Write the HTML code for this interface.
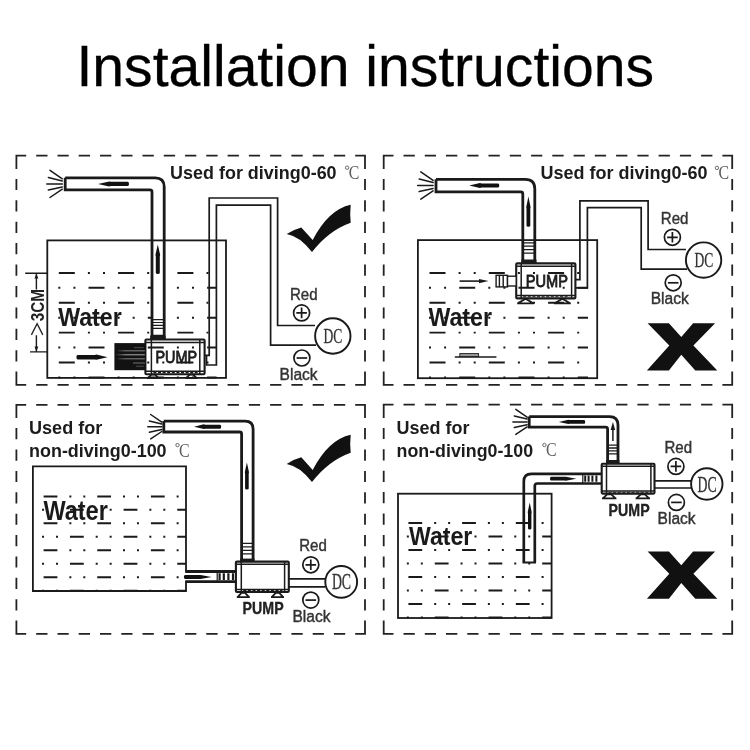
<!DOCTYPE html>
<html><head><meta charset="utf-8"><title>Installation instructions</title><style>html,body{margin:0;padding:0;background:#fff;width:750px;height:750px;overflow:hidden;font-family:"Liberation Sans",sans-serif}svg{display:block;filter:blur(0.3px)}</style></head><body>
<svg width="750" height="750" viewBox="0 0 750 750"><text x="76.5" y="86.3" font-family="Liberation Sans" font-size="57.5" font-weight="normal" fill="#000" text-anchor="start" textLength="577.5" lengthAdjust="spacingAndGlyphs" stroke="#000" stroke-width="0.3">Installation instructions</text>
<path d="M15.5,155.6H26.2M36.2,155.6H47.5M57.5,155.6H68.7M78.7,155.6H90.0M100.0,155.6H111.3M121.3,155.6H132.5M142.5,155.6H153.8M163.8,155.6H175.1M185.1,155.6H196.3M206.3,155.6H217.6M227.6,155.6H238.9M248.9,155.6H260.1M270.1,155.6H281.4M291.4,155.6H302.7M312.7,155.6H323.9M333.9,155.6H345.2M355.2,155.6H365.9M15.5,384.9H26.2M36.2,384.9H47.5M57.5,384.9H68.7M78.7,384.9H90.0M100.0,384.9H111.3M121.3,384.9H132.5M142.5,384.9H153.8M163.8,384.9H175.1M185.1,384.9H196.3M206.3,384.9H217.6M227.6,384.9H238.9M248.9,384.9H260.1M270.1,384.9H281.4M291.4,384.9H302.7M312.7,384.9H323.9M333.9,384.9H345.2M355.2,384.9H365.9M16.4,154.7V168.9M16.4,178.9V190.1M16.4,200.3V211.5M16.4,221.7V232.9M16.4,243.1V254.3M16.4,264.5V275.8M16.4,286.0V297.2M16.4,307.4V318.6M16.4,328.8V340.0M16.4,350.2V361.4M16.4,371.6V385.8M365.0,154.7V168.9M365.0,178.9V190.1M365.0,200.3V211.5M365.0,221.7V232.9M365.0,243.1V254.3M365.0,264.5V275.8M365.0,286.0V297.2M365.0,307.4V318.6M365.0,328.8V340.0M365.0,350.2V361.4M365.0,371.6V385.8" fill="none" stroke="#222" stroke-width="1.8"/>
<path d="M382.8,155.6H393.5M403.5,155.6H414.8M424.8,155.6H436.0M446.0,155.6H457.3M467.3,155.6H478.5M488.5,155.6H499.8M509.8,155.6H521.1M531.1,155.6H542.3M552.3,155.6H563.6M573.6,155.6H584.8M594.8,155.6H606.1M616.1,155.6H627.4M637.4,155.6H648.6M658.6,155.6H669.9M679.9,155.6H691.1M701.1,155.6H712.4M722.4,155.6H733.1M382.8,384.9H393.5M403.5,384.9H414.8M424.8,384.9H436.0M446.0,384.9H457.3M467.3,384.9H478.5M488.5,384.9H499.8M509.8,384.9H521.1M531.1,384.9H542.3M552.3,384.9H563.6M573.6,384.9H584.8M594.8,384.9H606.1M616.1,384.9H627.4M637.4,384.9H648.6M658.6,384.9H669.9M679.9,384.9H691.1M701.1,384.9H712.4M722.4,384.9H733.1M383.7,154.7V168.9M383.7,178.9V190.1M383.7,200.3V211.5M383.7,221.7V232.9M383.7,243.1V254.3M383.7,264.5V275.8M383.7,286.0V297.2M383.7,307.4V318.6M383.7,328.8V340.0M383.7,350.2V361.4M383.7,371.6V385.8M732.2,154.7V168.9M732.2,178.9V190.1M732.2,200.3V211.5M732.2,221.7V232.9M732.2,243.1V254.3M732.2,264.5V275.8M732.2,286.0V297.2M732.2,307.4V318.6M732.2,328.8V340.0M732.2,350.2V361.4M732.2,371.6V385.8" fill="none" stroke="#222" stroke-width="1.8"/>
<path d="M15.5,404.8H26.2M36.2,404.8H47.5M57.5,404.8H68.7M78.7,404.8H90.0M100.0,404.8H111.3M121.3,404.8H132.5M142.5,404.8H153.8M163.8,404.8H175.1M185.1,404.8H196.3M206.3,404.8H217.6M227.6,404.8H238.9M248.9,404.8H260.1M270.1,404.8H281.4M291.4,404.8H302.7M312.7,404.8H323.9M333.9,404.8H345.2M355.2,404.8H365.9M15.5,633.9H26.2M36.2,633.9H47.5M57.5,633.9H68.7M78.7,633.9H90.0M100.0,633.9H111.3M121.3,633.9H132.5M142.5,633.9H153.8M163.8,633.9H175.1M185.1,633.9H196.3M206.3,633.9H217.6M227.6,633.9H238.9M248.9,633.9H260.1M270.1,633.9H281.4M291.4,633.9H302.7M312.7,633.9H323.9M333.9,633.9H345.2M355.2,633.9H365.9M16.4,403.9V418.1M16.4,428.1V439.3M16.4,449.5V460.7M16.4,470.9V482.1M16.4,492.3V503.5M16.4,513.7V524.8M16.4,535.0V546.2M16.4,556.4V567.6M16.4,577.8V589.0M16.4,599.2V610.4M16.4,620.6V634.8M365.0,403.9V418.1M365.0,428.1V439.3M365.0,449.5V460.7M365.0,470.9V482.1M365.0,492.3V503.5M365.0,513.7V524.8M365.0,535.0V546.2M365.0,556.4V567.6M365.0,577.8V589.0M365.0,599.2V610.4M365.0,620.6V634.8" fill="none" stroke="#222" stroke-width="1.8"/>
<path d="M382.8,404.6H393.5M403.5,404.6H414.8M424.8,404.6H436.0M446.0,404.6H457.3M467.3,404.6H478.5M488.5,404.6H499.8M509.8,404.6H521.1M531.1,404.6H542.3M552.3,404.6H563.6M573.6,404.6H584.8M594.8,404.6H606.1M616.1,404.6H627.4M637.4,404.6H648.6M658.6,404.6H669.9M679.9,404.6H691.1M701.1,404.6H712.4M722.4,404.6H733.1M382.8,633.9H393.5M403.5,633.9H414.8M424.8,633.9H436.0M446.0,633.9H457.3M467.3,633.9H478.5M488.5,633.9H499.8M509.8,633.9H521.1M531.1,633.9H542.3M552.3,633.9H563.6M573.6,633.9H584.8M594.8,633.9H606.1M616.1,633.9H627.4M637.4,633.9H648.6M658.6,633.9H669.9M679.9,633.9H691.1M701.1,633.9H712.4M722.4,633.9H733.1M383.7,403.7V417.9M383.7,427.9V439.1M383.7,449.3V460.5M383.7,470.7V481.9M383.7,492.1V503.3M383.7,513.5V524.8M383.7,535.0V546.2M383.7,556.4V567.6M383.7,577.8V589.0M383.7,599.2V610.4M383.7,620.6V634.8M732.2,403.7V417.9M732.2,427.9V439.1M732.2,449.3V460.5M732.2,470.7V481.9M732.2,492.1V503.3M732.2,513.5V524.8M732.2,535.0V546.2M732.2,556.4V567.6M732.2,577.8V589.0M732.2,599.2V610.4M732.2,620.6V634.8" fill="none" stroke="#222" stroke-width="1.8"/>
<defs><clipPath id="c1"><rect x="47" y="240" width="169.6" height="139"/></clipPath><clipPath id="c2"><rect x="417" y="240" width="171" height="139"/></clipPath><clipPath id="c3"><rect x="32.9" y="467" width="153.1" height="125"/></clipPath><clipPath id="c4"><rect x="398" y="494" width="153.6" height="125"/></clipPath></defs>
<g stroke="#1a1a1a" fill="none" clip-path="url(#c1)"><path d="M-0.50,272.90H227.00" stroke-dasharray="16.00 13.10 2.0 13.10 2.0 13.10" stroke-width="1.95"/><path d="M29.20,287.83H227.00" stroke-dasharray="16.00 13.10 2.0 13.10 2.0 13.10" stroke-width="1.95"/><path d="M-0.50,302.76H227.00" stroke-dasharray="16.00 13.10 2.0 13.10 2.0 13.10" stroke-width="1.95"/><path d="M29.20,317.69H227.00" stroke-dasharray="16.00 13.10 2.0 13.10 2.0 13.10" stroke-width="1.95"/><path d="M-0.50,332.62H227.00" stroke-dasharray="16.00 13.10 2.0 13.10 2.0 13.10" stroke-width="1.95"/><path d="M29.20,347.55H227.00" stroke-dasharray="16.00 13.10 2.0 13.10 2.0 13.10" stroke-width="1.95"/><path d="M-0.50,362.48H227.00" stroke-dasharray="16.00 13.10 2.0 13.10 2.0 13.10" stroke-width="1.95"/><path d="M29.20,377.41H227.00" stroke-dasharray="16.00 13.10 2.0 13.10 2.0 13.10" stroke-width="1.95"/></g>
<path d="M65.2,177.8H155.2Q164.2,177.8 164.2,186.8V339.6H152.0V191.9Q152.0,189.9 150.0,189.9H65.2Z" fill="#fff" stroke="none"/>
<rect x="47.3" y="240.4" width="178.7" height="137.5" fill="none" stroke="#1a1a1a" stroke-width="1.8"/>
<g fill="none" stroke="#1a1a1a" stroke-width="2.8" stroke-linejoin="miter"><path d="M65.2,177.8H155.2Q164.2,177.8 164.2,186.8V339.6"/><path d="M65.2,177.8V189.9H150.0Q152.0,189.9 152.0,191.9V339.6"/></g>
<path d="M152,319.6H164.2M152,322.5H164.2M152,325.4H164.2M152,328.3H164.2" stroke="#1a1a1a" stroke-width="1.2"/>
<path d="M150.2,339.6V336.3Q150.2,334.8 151.7,334.8H164Q165.6,334.8 165.6,336.5V339.6Z" fill="#1a1a1a"/>
<path d="M50.0,170.3L62.3,178.8M48.4,177.5L62.3,180.9M46.8,183.9L62.3,183.9M48.4,190.0L62.3,186.9M50.0,197.5L62.3,189.2" stroke="#1a1a1a" stroke-width="1.5" fill="none" stroke-linecap="round"/>
<path fill="#111" d="M98.0,183.9L109.2,181.4L110.7,181.8H127.7Q129.0,181.8 129.0,183.9Q129.0,186.0 127.7,186.0H110.7L109.2,186.4Z"/>
<path fill="#111" d="M157.8,244.4L160.2,255.1L159.8,256.6V272.8Q159.8,274.0 157.8,274.0Q155.8,274.0 155.8,272.8V256.6L155.4,255.1Z"/>
<path fill="#111" d="M107.6,357.2L96.4,354.6L94.9,354.9H77.8Q76.4,354.9 76.4,357.2Q76.4,359.5 77.8,359.5H94.9L96.4,359.8Z"/>
<text x="58.2" y="326.1" font-family="Liberation Sans" font-size="25.3" font-weight="bold" fill="#1a1a1a" text-anchor="start" textLength="63.6" lengthAdjust="spacingAndGlyphs">Water</text>
<path d="M25.2,273.2H47M30,351.9H47M36.4,273.2V289.5M36.4,335.3V351.9" stroke="#1a1a1a" stroke-width="1.4" fill="none"/>
<path d="M36.4,273.4l-1.9,5.2h3.8zM36.4,351.7l-1.9,-5.2h3.8z" fill="#1a1a1a"/>
<g transform="translate(44.3,321.2) rotate(-90)"><text x="0.0" y="0.0" font-family="Liberation Sans" font-size="19" font-weight="bold" fill="#222" text-anchor="start" textLength="32.2" lengthAdjust="spacingAndGlyphs">3CM</text></g>
<path d="M31.4,334.9L37.1,323.6L42.8,334.9" fill="none" stroke="#222" stroke-width="1.3"/>
<g fill="none" stroke="#1a1a1a"><rect x="145.4" y="339.5" width="59.2" height="34.7" rx="1" stroke-width="2.1"/><path d="M151.4,339.5V374.2M199.8,339.5V374.2M145.4,342.5H204.6M145.4,371.2H204.6" stroke-width="1.5"/><path d="M153.4,372.6H197.6" stroke-width="1.1" stroke-dasharray="3 1.6"/></g>
<path d="M147.0,378.2H159.5M147.8,378.2L151.5,374.6H155.0L158.7,378.2" fill="none" stroke="#1a1a1a" stroke-width="1.8"/><path d="M185.2,378.2H197.6M186.0,378.2L189.7,374.6H193.1L196.8,378.2" fill="none" stroke="#1a1a1a" stroke-width="1.8"/>
<text x="155.4" y="362.9" font-family="Liberation Sans" font-size="16.8" font-weight="normal" fill="#1c1c1c" text-anchor="start" textLength="41.6" lengthAdjust="spacingAndGlyphs" stroke="#1c1c1c" stroke-width="0.8">PUMP</text>
<defs><linearGradient id="sg" gradientUnits="userSpaceOnUse" x1="115" y1="0" x2="145" y2="0"><stop offset="0" stop-color="#9a9a9a" stop-opacity="0"/><stop offset="0.35" stop-color="#9a9a9a" stop-opacity="0.75"/><stop offset="1" stop-color="#8a8a8a" stop-opacity="0.9"/></linearGradient></defs>
<rect x="114.4" y="343.1" width="31" height="27.1" fill="#121212"/>
<g stroke="url(#sg)" fill="none" stroke-width="1.1"><path d="M134,347.6H143.6" stroke-opacity="0.5"/><path d="M118,350.8H144.8"/><path d="M115.5,354.7H144.8" stroke-width="1.5"/><path d="M118,358.8H144.8"/><path d="M133,363H144.8" stroke-opacity="0.8"/><path d="M136,366.3H143.6" stroke-opacity="0.5"/></g>
<g fill="none" stroke="#1a1a1a" stroke-width="1.7"><path d="M204.4,355.4H209.2V198H277.6V325.5H315"/><path d="M206.5,355.4V365H216.4V205.2H270.6V345.2H316"/></g>
<circle cx="332.8" cy="336" r="17.7" fill="#fff" stroke="#1a1a1a" stroke-width="1.9"/><text x="323.6" y="343.3" font-family="Liberation Serif" font-size="21.8" font-weight="normal" fill="#333" text-anchor="start" textLength="18.8" lengthAdjust="spacingAndGlyphs" stroke="#333" stroke-width="0.3">DC</text>
<text x="290.0" y="299.6" font-family="Liberation Sans" font-size="16" font-weight="normal" fill="#333" text-anchor="start" textLength="27.6" lengthAdjust="spacingAndGlyphs" stroke="#333" stroke-width="0.4">Red</text>
<g stroke="#1a1a1a" stroke-width="1.7" fill="none"><circle cx="301.6" cy="312.9" r="8.0"/><path d="M296.3,312.9H306.90000000000003M301.6,307.59999999999997V318.2"/></g>
<g stroke="#1a1a1a" stroke-width="1.7" fill="none"><circle cx="301.9" cy="358" r="8.0"/><path d="M296.59999999999997,358H307.2"/></g>
<text x="279.6" y="380.0" font-family="Liberation Sans" font-size="16" font-weight="normal" fill="#333" text-anchor="start" textLength="38.0" lengthAdjust="spacingAndGlyphs" stroke="#333" stroke-width="0.4">Black</text>
<path fill="#111" d="M286.7,234.1Q293.5,229.4 301.3,227.4L312.7,240.1Q328.3,209.7 350.7,204.8Q349.7,213.8 350.7,222.8Q328.6,230.7 312.0,252.1Q299.3,236.1 286.7,234.1Z"/>
<text x="170.1" y="179.2" font-family="Liberation Sans" font-size="17.7" font-weight="bold" fill="#1c1c1c" text-anchor="start" textLength="166.5" lengthAdjust="spacingAndGlyphs">Used for diving0-60</text>
<circle cx="347.1" cy="167.7" r="1.7" fill="none" stroke="#5a5a5a" stroke-width="0.9"/><text x="348.7" y="179.1" font-family="Liberation Serif" font-size="18.3" font-weight="normal" fill="#5a5a5a" text-anchor="start" textLength="10.6" lengthAdjust="spacingAndGlyphs">C</text>
<g stroke="#1a1a1a" fill="none" clip-path="url(#c2)"><path d="M370.20,272.90H597.00" stroke-dasharray="16.00 13.10 2.0 13.10 2.0 13.10" stroke-width="1.95"/><path d="M399.90,287.83H597.00" stroke-dasharray="16.00 13.10 2.0 13.10 2.0 13.10" stroke-width="1.95"/><path d="M370.20,302.76H597.00" stroke-dasharray="16.00 13.10 2.0 13.10 2.0 13.10" stroke-width="1.95"/><path d="M399.90,317.69H597.00" stroke-dasharray="16.00 13.10 2.0 13.10 2.0 13.10" stroke-width="1.95"/><path d="M370.20,332.62H597.00" stroke-dasharray="16.00 13.10 2.0 13.10 2.0 13.10" stroke-width="1.95"/><path d="M399.90,347.55H597.00" stroke-dasharray="16.00 13.10 2.0 13.10 2.0 13.10" stroke-width="1.95"/><path d="M370.20,362.48H597.00" stroke-dasharray="16.00 13.10 2.0 13.10 2.0 13.10" stroke-width="1.95"/><path d="M399.90,377.41H597.00" stroke-dasharray="16.00 13.10 2.0 13.10 2.0 13.10" stroke-width="1.95"/></g>
<path d="M436,179.3H525.3Q534.8,179.3 534.8,188.8V263H522.8V193.9Q522.8,191.9 520.8,191.9H436Z" fill="#fff" stroke="none"/>
<rect x="417.9" y="240.1" width="179.3" height="138.1" fill="none" stroke="#1a1a1a" stroke-width="1.8"/>
<g fill="none" stroke="#1a1a1a" stroke-width="2.8" stroke-linejoin="miter"><path d="M436,179.3H525.3Q534.8,179.3 534.8,188.8V263"/><path d="M436,179.3V191.9H520.8Q522.8,191.9 522.8,193.9V263"/></g>
<path d="M522.8,242.8H534.8M522.8,246.2H534.8M522.8,249.6H534.8M522.8,253.2H534.8" stroke="#1a1a1a" stroke-width="1.2"/>
<rect x="521.3" y="259.5" width="15.2" height="4" fill="#1a1a1a"/>
<path d="M420.8,171.9L433.1,180.4M419.2,179.1L433.1,182.5M417.6,185.5L433.1,185.5M419.2,191.6L433.1,188.5M420.8,199.1L433.1,190.8" stroke="#1a1a1a" stroke-width="1.5" fill="none" stroke-linecap="round"/>
<path fill="#111" d="M469.2,185.5L480.0,183.0L481.5,183.4H498.0Q499.3,183.4 499.3,185.5Q499.3,187.6 498.0,187.6H481.5L480.0,188.0Z"/>
<path fill="#111" d="M528.4,196.4L530.6,207.3L530.3,208.8V225.7Q530.3,226.8 528.4,226.8Q526.5,226.8 526.5,225.7V208.8L526.2,207.3Z"/>
<text x="428.4" y="326.2" font-family="Liberation Sans" font-size="25.3" font-weight="bold" fill="#1a1a1a" text-anchor="start" textLength="63.6" lengthAdjust="spacingAndGlyphs">Water</text>
<g fill="none" stroke="#1a1a1a"><rect x="516.2" y="263.4" width="59.2" height="35.0" rx="1" stroke-width="2.1"/><path d="M521.2,263.4V298.4M571.6,263.4V298.4M516.2,266.3H575.4M516.2,295.5H575.4" stroke-width="1.5"/><path d="M523.2,296.8H569.4" stroke-width="1.1" stroke-dasharray="3 1.6"/></g>
<path d="M517.2,303.3H534.0M518.0,303.3L524.8,299.2H526.4L533.2,303.3" fill="none" stroke="#1a1a1a" stroke-width="1.8"/><path d="M554.0,303.3H570.8M554.8,303.3L561.6,299.2H563.2L570.0,303.3" fill="none" stroke="#1a1a1a" stroke-width="1.8"/>
<text x="525.8" y="286.8" font-family="Liberation Sans" font-size="16.8" font-weight="normal" fill="#1c1c1c" text-anchor="start" textLength="42.2" lengthAdjust="spacingAndGlyphs" stroke="#1c1c1c" stroke-width="0.8">PUMP</text>
<g fill="#fff" stroke="#1a1a1a" stroke-width="1.4"><rect x="496.1" y="275.3" width="11.4" height="11.6"/><rect x="507.5" y="276.2" width="8.7" height="9.8"/><path d="M499.4,275.3V286.9M503.2,275.3V286.9"/></g>
<path d="M459.6,281.1H482" stroke="#1a1a1a" stroke-width="1.6"/><path d="M488.6,281.1l-9.6,-2.2v4.4z" fill="#1a1a1a"/>
<path d="M454.8,356.9H496.4" stroke="#1a1a1a" stroke-width="1.5"/><rect x="459.8" y="353.6" width="18.8" height="3" fill="#999" stroke="#1a1a1a" stroke-width="0.9"/>
<g fill="none" stroke="#1a1a1a" stroke-width="1.7"><path d="M575.4,279.6H579.9V200.9H648.1V249.5H686"/><path d="M575.4,287.8H587.4V207.7H641.2V269.2H687"/></g>
<circle cx="703.6" cy="260.1" r="17.7" fill="#fff" stroke="#1a1a1a" stroke-width="1.9"/><text x="694.4" y="267.4" font-family="Liberation Serif" font-size="21.8" font-weight="normal" fill="#333" text-anchor="start" textLength="18.8" lengthAdjust="spacingAndGlyphs" stroke="#333" stroke-width="0.3">DC</text>
<text x="660.8" y="223.6" font-family="Liberation Sans" font-size="16" font-weight="normal" fill="#333" text-anchor="start" textLength="27.6" lengthAdjust="spacingAndGlyphs" stroke="#333" stroke-width="0.4">Red</text>
<g stroke="#1a1a1a" stroke-width="1.7" fill="none"><circle cx="672.4" cy="237.3" r="8.0"/><path d="M667.1,237.3H677.6999999999999M672.4,232.0V242.60000000000002"/></g>
<g stroke="#1a1a1a" stroke-width="1.7" fill="none"><circle cx="673.2" cy="282.8" r="8.0"/><path d="M667.9000000000001,282.8H678.5"/></g>
<text x="650.7" y="303.9" font-family="Liberation Sans" font-size="16" font-weight="normal" fill="#333" text-anchor="start" textLength="38.0" lengthAdjust="spacingAndGlyphs" stroke="#333" stroke-width="0.4">Black</text>
<path fill="#111" d="M647.6,323.2L668.9,323.2L681.3,337.1L693.1,323.2L715.1,323.2L693.4,345.6L717.3,370.6L695.3,370.6L681.3,354.7L668.9,370.6L646.9,370.6L669.3,345.6Z"/>
<text x="540.5" y="179.3" font-family="Liberation Sans" font-size="17.7" font-weight="bold" fill="#1c1c1c" text-anchor="start" textLength="167.0" lengthAdjust="spacingAndGlyphs">Used for diving0-60</text>
<circle cx="716.9" cy="167.9" r="1.7" fill="none" stroke="#5a5a5a" stroke-width="0.9"/><text x="718.5" y="179.3" font-family="Liberation Serif" font-size="18.3" font-weight="normal" fill="#5a5a5a" text-anchor="start" textLength="10.6" lengthAdjust="spacingAndGlyphs">C</text>
<g stroke="#1a1a1a" fill="none" clip-path="url(#c3)"><path d="M-10.05,496.40H186.00" stroke-dasharray="13.80 11.95 2.0 11.95 2.0 11.95" stroke-width="2.0"/><path d="M16.30,509.87H186.00" stroke-dasharray="13.80 11.95 2.0 11.95 2.0 11.95" stroke-width="2.0"/><path d="M-10.05,523.34H186.00" stroke-dasharray="13.80 11.95 2.0 11.95 2.0 11.95" stroke-width="2.0"/><path d="M16.30,536.81H186.00" stroke-dasharray="13.80 11.95 2.0 11.95 2.0 11.95" stroke-width="2.0"/><path d="M-10.05,550.28H186.00" stroke-dasharray="13.80 11.95 2.0 11.95 2.0 11.95" stroke-width="2.0"/><path d="M16.30,563.75H186.00" stroke-dasharray="13.80 11.95 2.0 11.95 2.0 11.95" stroke-width="2.0"/><path d="M-10.05,577.22H186.00" stroke-dasharray="13.80 11.95 2.0 11.95 2.0 11.95" stroke-width="2.0"/><path d="M16.30,590.69H186.00" stroke-dasharray="13.80 11.95 2.0 11.95 2.0 11.95" stroke-width="2.0"/></g>
<path d="M186,571.5V466.4H32.9V591H186V581.6" fill="none" stroke="#1a1a1a" stroke-width="1.8"/>
<text x="43.4" y="519.6" font-family="Liberation Sans" font-size="27.6" font-weight="bold" fill="#1a1a1a" text-anchor="start" textLength="64.4" lengthAdjust="spacingAndGlyphs">Water</text>
<text x="29.0" y="433.6" font-family="Liberation Sans" font-size="17.7" font-weight="bold" fill="#1c1c1c" text-anchor="start" textLength="73.3" lengthAdjust="spacingAndGlyphs">Used for</text>
<text x="29.0" y="456.5" font-family="Liberation Sans" font-size="17.7" font-weight="bold" fill="#1c1c1c" text-anchor="start" textLength="137.6" lengthAdjust="spacingAndGlyphs">non-diving0-100</text>
<circle cx="177.5" cy="445.1" r="1.7" fill="none" stroke="#5a5a5a" stroke-width="0.9"/><text x="179.1" y="456.5" font-family="Liberation Serif" font-size="18.3" font-weight="normal" fill="#5a5a5a" text-anchor="start" textLength="10.6" lengthAdjust="spacingAndGlyphs">C</text>
<path d="M163.8,421.1H245.1Q253.1,421.1 253.1,429.1V562H241.6V434Q241.6,432 239.6,432H163.8Z" fill="#fff" stroke="none"/>
<g fill="none" stroke="#1a1a1a" stroke-width="2.8" stroke-linejoin="miter"><path d="M163.8,421.1H245.1Q253.1,421.1 253.1,429.1V562"/><path d="M163.8,421.1V432H239.6Q241.6,432 241.6,434V562"/></g>
<path d="M241.6,543.3H253.1M241.6,546.8H253.1M241.6,550.3H253.1M241.6,553.8H253.1" stroke="#1a1a1a" stroke-width="1.3"/>
<rect x="240.2" y="558.6" width="14.3" height="3.4" fill="#1a1a1a"/>
<path d="M150.7,414.5L161.8,422.1M149.3,420.9L161.8,424.0M147.8,426.7L161.8,426.7M149.3,432.2L161.8,429.4M150.7,438.9L161.8,431.5" stroke="#1a1a1a" stroke-width="1.5" fill="none" stroke-linecap="round"/>
<path fill="#111" d="M194.0,426.7L203.8,424.3L205.3,424.7H220.0Q221.2,424.7 221.2,426.7Q221.2,428.7 220.0,428.7H205.3L203.8,429.1Z"/>
<path fill="#111" d="M246.9,462.4L249.0,472.2L248.7,473.7V488.5Q248.7,489.6 246.9,489.6Q245.1,489.6 245.1,488.5V473.7L244.8,472.2Z"/>
<path d="M185.2,571.5H236.4M185.2,581.6H236.4" stroke="#1a1a1a" stroke-width="2.9" fill="none"/>
<path d="M219.6,573.2V580M223.8,573.2V580M228.4,573.2V580M233,573.2V580" stroke="#1a1a1a" stroke-width="2.2"/><path d="M217.2,572V581" stroke="#1a1a1a" stroke-width="1.2"/>
<path fill="#111" d="M211.6,577.0L200.5,574.9L199.0,575.0H185.1Q183.9,575.0 183.9,577.0Q183.9,579.0 185.1,579.0H199.0L200.5,579.1Z"/>
<g fill="none" stroke="#1a1a1a"><rect x="235.9" y="561.6" width="52.9" height="30.4" rx="1" stroke-width="2.1"/><path d="M241.3,561.6V592M284.6,561.6V592M235.9,564.2H288.8M235.9,589.4H288.8" stroke-width="1.5"/><path d="M243.3,590.6H282.4" stroke-width="1.1" stroke-dasharray="3 1.6"/></g>
<path d="M236.8,597.2H249.8M237.6,597.2L241.5,592.8H245.1L249.0,597.2" fill="none" stroke="#1a1a1a" stroke-width="1.8"/><path d="M271.0,597.2H284.0M271.8,597.2L275.7,592.8H279.3L283.2,597.2" fill="none" stroke="#1a1a1a" stroke-width="1.8"/>
<text x="242.6" y="614.4" font-family="Liberation Sans" font-size="15.7" font-weight="bold" fill="#222" text-anchor="start" textLength="41.0" lengthAdjust="spacingAndGlyphs" stroke="#222" stroke-width="0.35">PUMP</text>
<path d="M288.8,578.9H325M288.8,586.9H325" stroke="#1a1a1a" stroke-width="1.7"/>
<circle cx="341.2" cy="581.9" r="15.9" fill="#fff" stroke="#1a1a1a" stroke-width="1.9"/><text x="331.9" y="589.4" font-family="Liberation Serif" font-size="22.4" font-weight="normal" fill="#333" text-anchor="start" textLength="19.2" lengthAdjust="spacingAndGlyphs" stroke="#333" stroke-width="0.3">DC</text>
<text x="299.2" y="551.2" font-family="Liberation Sans" font-size="16" font-weight="normal" fill="#333" text-anchor="start" textLength="27.6" lengthAdjust="spacingAndGlyphs" stroke="#333" stroke-width="0.4">Red</text>
<g stroke="#1a1a1a" stroke-width="1.7" fill="none"><circle cx="310.8" cy="564.8" r="8.0"/><path d="M305.5,564.8H316.1M310.8,559.5V570.0999999999999"/></g>
<g stroke="#1a1a1a" stroke-width="1.7" fill="none"><circle cx="310.8" cy="600.1" r="8.0"/><path d="M305.5,600.1H316.1"/></g>
<text x="292.5" y="621.9" font-family="Liberation Sans" font-size="16" font-weight="normal" fill="#333" text-anchor="start" textLength="38.0" lengthAdjust="spacingAndGlyphs" stroke="#333" stroke-width="0.4">Black</text>
<path fill="#111" d="M286.7,464.0Q293.5,459.3 301.3,457.3L312.7,470.0Q328.3,439.6 350.7,434.7Q349.7,443.7 350.7,452.7Q328.6,460.6 312.0,482.0Q299.3,466.0 286.7,464.0Z"/>
<g stroke="#1a1a1a" fill="none" clip-path="url(#c4)"><path d="M354.70,522.90H551.60" stroke-dasharray="13.80 11.97 2.0 11.97 2.0 11.97" stroke-width="2.0"/><path d="M381.07,536.40H551.60" stroke-dasharray="13.80 11.97 2.0 11.97 2.0 11.97" stroke-width="2.0"/><path d="M354.70,549.90H551.60" stroke-dasharray="13.80 11.97 2.0 11.97 2.0 11.97" stroke-width="2.0"/><path d="M381.07,563.40H551.60" stroke-dasharray="13.80 11.97 2.0 11.97 2.0 11.97" stroke-width="2.0"/><path d="M354.70,576.90H551.60" stroke-dasharray="13.80 11.97 2.0 11.97 2.0 11.97" stroke-width="2.0"/><path d="M381.07,590.40H551.60" stroke-dasharray="13.80 11.97 2.0 11.97 2.0 11.97" stroke-width="2.0"/><path d="M354.70,603.90H551.60" stroke-dasharray="13.80 11.97 2.0 11.97 2.0 11.97" stroke-width="2.0"/><path d="M381.07,617.40H551.60" stroke-dasharray="13.80 11.97 2.0 11.97 2.0 11.97" stroke-width="2.0"/></g>
<text x="396.5" y="433.6" font-family="Liberation Sans" font-size="17.7" font-weight="bold" fill="#1c1c1c" text-anchor="start" textLength="73.0" lengthAdjust="spacingAndGlyphs">Used for</text>
<text x="396.5" y="456.5" font-family="Liberation Sans" font-size="17.7" font-weight="bold" fill="#1c1c1c" text-anchor="start" textLength="136.6" lengthAdjust="spacingAndGlyphs">non-diving0-100</text>
<circle cx="544.4" cy="445.0" r="1.7" fill="none" stroke="#5a5a5a" stroke-width="0.9"/><text x="546.0" y="456.4" font-family="Liberation Serif" font-size="18.3" font-weight="normal" fill="#5a5a5a" text-anchor="start" textLength="10.6" lengthAdjust="spacingAndGlyphs">C</text>
<path d="M529.2,416.6H609.5Q618,416.6 618,425.1V463.5H607.6V429.2Q607.6,427.2 605.6,427.2H529.2Z" fill="#fff" stroke="none"/>
<g fill="none" stroke="#1a1a1a" stroke-width="2.8" stroke-linejoin="miter"><path d="M529.2,416.6H609.5Q618,416.6 618,425.1V463.5"/><path d="M529.2,416.6V427.2H605.6Q607.6,427.2 607.6,429.2V463.5"/></g>
<path d="M607.6,445.1H618M607.6,448H618M607.6,450.9H618M607.6,453.8H618" stroke="#1a1a1a" stroke-width="1.3"/>
<rect x="606.2" y="460" width="13.2" height="3.6" fill="#1a1a1a"/>
<path d="M515.8,409.4L527.1,417.2M514.3,416.0L527.1,419.1M512.9,421.9L527.1,421.9M514.3,427.5L527.1,424.7M515.8,434.4L527.1,426.8" stroke="#1a1a1a" stroke-width="1.5" fill="none" stroke-linecap="round"/>
<path fill="#111" d="M558.8,421.9L568.3,419.7L569.8,420.0H584.1Q585.2,420.0 585.2,421.9Q585.2,423.8 584.1,423.8H569.8L568.3,424.1Z"/>
<path d="M612.9,428.5V441" stroke="#1a1a1a" stroke-width="1.5"/><path d="M612.9,422l-2.3,8h4.6z" fill="#1a1a1a"/>
<rect x="398" y="493.7" width="153.6" height="124.3" fill="none" stroke="#1a1a1a" stroke-width="1.8"/>
<path d="M523.8,562.5V481.5Q523.8,473.9 531.4,473.9H601.7M601.7,483.5H537.3Q534.8,483.5 534.8,486V562.5" fill="none" stroke="#1a1a1a" stroke-width="2.7"/>
<path d="M522.6,562.5H536" stroke="#1a1a1a" stroke-width="2"/>
<path d="M585.2,475.6V481.8M588.6,475.6V481.8M592.4,475.6V481.8M596.4,475.6V481.8" stroke="#1a1a1a" stroke-width="2.0"/><path d="M582.8,474.4V483" stroke="#1a1a1a" stroke-width="1.2"/>
<path fill="#111" d="M576.4,478.7L565.8,476.7L564.3,476.8H551.1Q550.0,476.8 550.0,478.7Q550.0,480.6 551.1,480.6H564.3L565.8,480.7Z"/>
<path fill="#111" d="M529.7,502.4L531.7,512.2L531.4,513.7V528.5Q531.4,529.5 529.7,529.5Q528.0,529.5 528.0,528.5V513.7L527.7,512.2Z"/>
<text x="409.0" y="545.2" font-family="Liberation Sans" font-size="25.8" font-weight="bold" fill="#1a1a1a" text-anchor="start" textLength="63.2" lengthAdjust="spacingAndGlyphs">Water</text>
<g fill="none" stroke="#1a1a1a"><rect x="601.7" y="463.7" width="52.8" height="29.9" rx="1" stroke-width="2.1"/><path d="M606.5,463.7V493.6M650.9,463.7V493.6M601.7,466.3H654.5M601.7,491.0H654.5" stroke-width="1.5"/><path d="M608.5,492.2H648.7" stroke-width="1.1" stroke-dasharray="3 1.6"/></g>
<path d="M602.0,498.4H616.4M602.8,498.4L607.2,494.4H611.2L615.6,498.4" fill="none" stroke="#1a1a1a" stroke-width="1.8"/><path d="M635.6,498.4H650.0M636.4,498.4L640.8,494.4H644.8L649.2,498.4" fill="none" stroke="#1a1a1a" stroke-width="1.8"/>
<text x="608.6" y="515.9" font-family="Liberation Sans" font-size="15.7" font-weight="bold" fill="#222" text-anchor="start" textLength="41.0" lengthAdjust="spacingAndGlyphs" stroke="#222" stroke-width="0.35">PUMP</text>
<path d="M654.5,480.8H691M654.5,488H691" stroke="#1a1a1a" stroke-width="1.7"/>
<circle cx="706.8" cy="484" r="15.7" fill="#fff" stroke="#1a1a1a" stroke-width="1.9"/><text x="697.5" y="491.5" font-family="Liberation Serif" font-size="22.4" font-weight="normal" fill="#333" text-anchor="start" textLength="19.2" lengthAdjust="spacingAndGlyphs" stroke="#333" stroke-width="0.3">DC</text>
<text x="664.5" y="452.8" font-family="Liberation Sans" font-size="16" font-weight="normal" fill="#333" text-anchor="start" textLength="27.6" lengthAdjust="spacingAndGlyphs" stroke="#333" stroke-width="0.4">Red</text>
<g stroke="#1a1a1a" stroke-width="1.7" fill="none"><circle cx="675.9" cy="466.4" r="8.0"/><path d="M670.6,466.4H681.1999999999999M675.9,461.09999999999997V471.7"/></g>
<g stroke="#1a1a1a" stroke-width="1.7" fill="none"><circle cx="676.4" cy="502.4" r="8.0"/><path d="M671.1,502.4H681.6999999999999"/></g>
<text x="657.6" y="524.0" font-family="Liberation Sans" font-size="16" font-weight="normal" fill="#333" text-anchor="start" textLength="38.0" lengthAdjust="spacingAndGlyphs" stroke="#333" stroke-width="0.4">Black</text>
<path fill="#111" d="M647.6,551.4L668.9,551.4L681.3,565.3L693.1,551.4L715.1,551.4L693.4,573.8L717.3,598.8L695.3,598.8L681.3,582.9L668.9,598.8L646.9,598.8L669.3,573.8Z"/></svg>
</body></html>
